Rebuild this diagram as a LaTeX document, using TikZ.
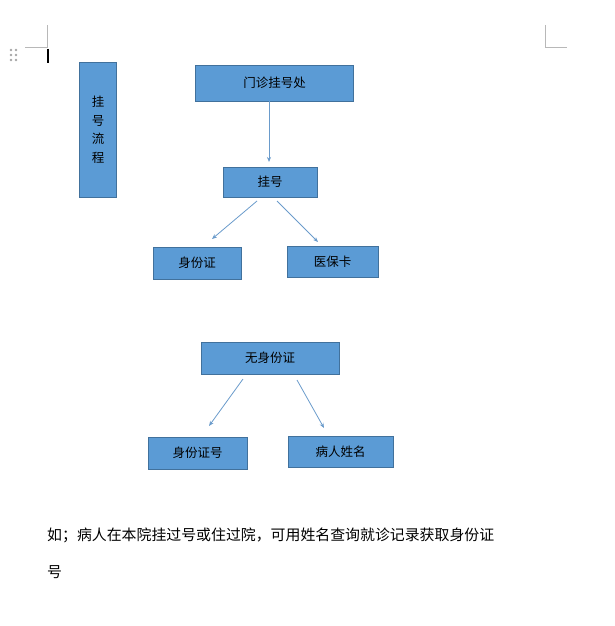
\documentclass[tikz,border=0pt]{standalone}
\usepackage{fontspec}
\setmainfont{Noto Sans CJK SC}
\usetikzlibrary{arrows.meta}
\definecolor{boxfill}{HTML}{5B9BD5}
\definecolor{boxline}{HTML}{41719C}
\definecolor{arr}{HTML}{6A9BCB}
\definecolor{mark}{HTML}{B8B8B8}
\begin{document}
\begin{tikzpicture}[x=1pt,y=-1pt,
  box/.style={draw=boxline,fill=boxfill,line width=0.9pt,inner sep=0pt,outer sep=0pt,
    font=\fontsize{12.5}{14}\selectfont,text=black},
  conn/.style={draw=arr,line width=0.8pt,-{Stealth[length=5pt,width=4pt]}},
  cornermark/.style={draw=mark,line width=0.7pt},
  dot/.style={fill=gray!70,draw=none}]
\useasboundingbox (0,0) rectangle (614,626);
% page corner marks
\draw[cornermark] (25,47) -- (47,47) -- (47,25);
\draw[cornermark] (545,25) -- (545,47) -- (567,47);
% cursor
\draw[black,line width=1.5pt] (48,49) -- (48,63);
% grip dots
\foreach \yy in {50,55,60}{\fill[dot] (11,\yy) circle (1.3pt); \fill[dot] (16,\yy) circle (1.3pt);}
% boxes
\node[box,minimum width=37pt,minimum height=135pt,align=center,
  font=\fontsize{12.5}{18.5}\selectfont] (v) at (98,129.5) {挂\\号\\流\\程};
\node[box,minimum width=158pt,minimum height=36pt] (n1) at (274.5,83) {门诊挂号处};
\node[box,minimum width=94pt,minimum height=30pt] (n2) at (270,182) {挂号};
\node[box,minimum width=88pt,minimum height=32pt] (n3) at (197,263) {身份证};
\node[box,minimum width=91pt,minimum height=31pt] (n4) at (332.5,261.5) {医保卡};
\node[box,minimum width=138pt,minimum height=32pt] (n5) at (270,358) {无身份证};
\node[box,minimum width=99pt,minimum height=32pt] (n6) at (197.5,453) {身份证号};
\node[box,minimum width=105pt,minimum height=31pt] (n7) at (340.5,451.5) {病人姓名};
% connectors
\draw[conn,shorten >=5pt] ([xshift=-5.5pt]n1.south) -- ([xshift=-1pt]n2.north);
\draw[conn] ([xshift=-13pt,yshift=-4pt]n2.south) -- ([xshift=15pt,yshift=8pt]n3.north);
\draw[conn] ([xshift=7pt,yshift=-4pt]n2.south) -- ([xshift=-14.5pt,yshift=4pt]n4.north);
\draw[conn] ([xshift=-27pt,yshift=-5pt]n5.south) -- ([xshift=11.5pt,yshift=11pt]n6.north);
\draw[conn] ([xshift=27pt,yshift=-6pt]n5.south) -- ([xshift=-16.5pt,yshift=8pt]n7.north);
% note text
\node[anchor=west,inner sep=0pt,font=\fontsize{14.9}{18}\selectfont] (t1) at (47,535)
  {如；病人在本院挂过号或住过院，可用姓名查询就诊记录获取身份证};
\node[anchor=west,inner sep=0pt,font=\fontsize{14.9}{18}\selectfont] (t2) at (47,572) {号};
\end{tikzpicture}
\end{document}
